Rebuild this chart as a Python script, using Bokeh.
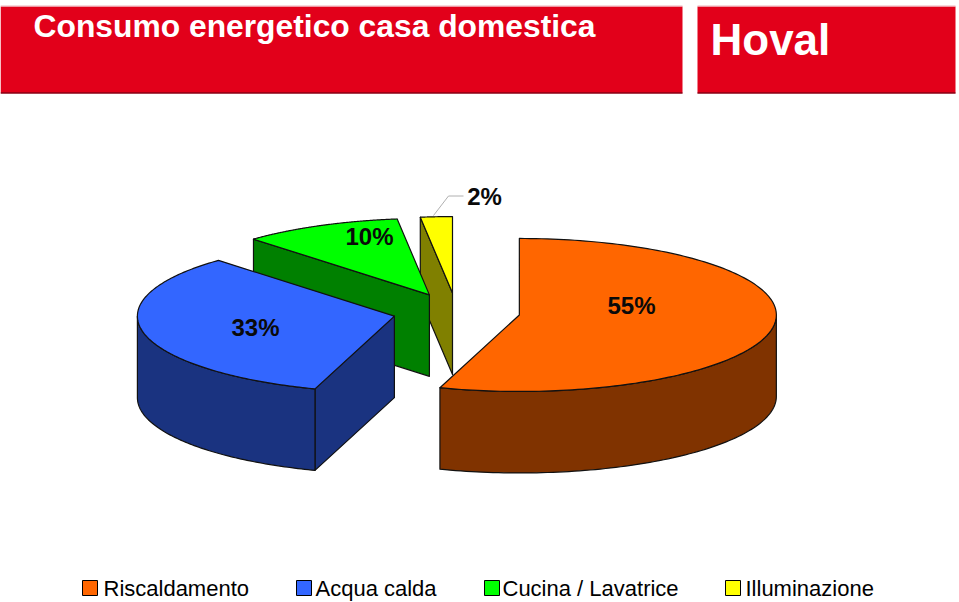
import numpy as np
from bokeh.plotting import figure
from bokeh.models import Range1d
from bokeh.core.properties import value
from bokeh.embed import file_html
from bokeh.resources import INLINE

# --- data ---
categories = ["Riscaldamento", "Acqua calda", "Cucina / Lavatrice", "Illuminazione"]
shares = [55, 33, 10, 2]
share_labels = ["55%", "33%", "10%", "2%"]
title_text = "Consumo energetico casa domestica"
logo_text = "Hoval"

# --- styling / layout ---
W, H = 959, 602
top_colors = ["#FF6600", "#3366FF", "#00FF00", "#FFFF00"]
side_colors = ["#803300", "#1A3380", "#008000", "#808000"]
cx, cy, rx, ry, depth, explode = 456, 311.5, 257, 76.5, 81.5, 0.2476
label_x = [631, 255, 369, 484]
label_y = [305, 327, 236, 196]
legend_box_x = [82, 296, 484, 725]
legend_text_x = [103, 315, 502, 745]
RED = "#E2001A"
FONT = "Liberation Sans"

p = figure(width=W, height=H, output_backend="svg", toolbar_location=None,
           x_range=Range1d(0, W), y_range=Range1d(H, 0), min_border=0,
           outline_line_color=None, background_fill_color="white",
           border_fill_color="white", margin=(0, 0, 0, 0))
p.axis.visible = False
p.grid.visible = False

# header
p.quad(left=[0, 697], right=[682, 955], top=[6, 6], bottom=[93, 93], fill_color=RED, line_color=None)
p.segment(x0=[0, 697], x1=[682, 955], y0=[92.5, 92.5], y1=[92.5, 92.5], line_color="#5a0010", line_width=1)
p.segment(x0=[0, 697], x1=[682, 955], y0=[5.5, 5.5], y1=[5.5, 5.5], line_color="#eeb0b8", line_width=1)
p.text(x=[33], y=[25], text=[title_text], text_color="white", text_font=value(FONT),
       text_font_style="bold", text_font_size="31.8px", text_baseline="middle", text_align="left")
p.text(x=[710], y=[39], text=[logo_text], text_color="white", text_font=value(FONT),
       text_font_style="bold", text_font_size="44px", text_baseline="middle", text_align="left")

# pie geometry derived from the shares
ends = np.cumsum(shares) / sum(shares) * 2 * np.pi
starts = np.concatenate([[0], ends[:-1]])


def px(a, ax):
    return ax + rx * np.sin(a)


def py(a, ay):
    return ay - ry * np.cos(a)


def draw_slice(i):
    s, e = starts[i], ends[i]
    m = (s + e) / 2
    ax = cx + explode * rx * np.sin(m)
    ay = cy - explode * ry * np.cos(m)
    side, top = side_colors[i], top_colors[i]
    style = dict(line_color="#111111", line_width=1.2, line_join="round")
    # cut face at the slice start, when it faces the viewer
    if np.sin(s) < -1e-6:
        sx, sy = px(s, ax), py(s, ay)
        p.patch([ax, sx, sx, ax], [ay, sy, sy + depth, ay + depth], fill_color=side, **style)
    # outer wall: the part of the rim turned towards the viewer
    lo, hi = max(s, np.pi / 2), min(e, 3 * np.pi / 2)
    if hi > lo:
        t = np.linspace(lo, hi, 90)
        xs = px(t, ax)
        ys = py(t, ay)
        p.patch(np.concatenate([xs, xs[::-1]]), np.concatenate([ys, ys[::-1] + depth]),
                fill_color=side, **style)
    # top
    t = np.linspace(s, e, 160)
    p.patch(np.concatenate([[ax], px(t, ax)]), np.concatenate([[ay], py(t, ay)]),
            fill_color=top, **style)


for i in [3, 2, 1, 0]:
    draw_slice(i)

# leader line of the small slice's label
p.line([433, 448, 463], [215, 195.5, 195.5], line_color="#b0b0b0", line_width=1)

p.text(x=label_x, y=label_y, text=share_labels, text_color="#0a0a0a", text_font=value(FONT),
       text_font_style="bold", text_font_size="24px", text_baseline="middle", text_align="center")

# legend
p.quad(left=legend_box_x, right=[x + 15 for x in legend_box_x], top=[580] * 4, bottom=[595] * 4,
       fill_color=top_colors, line_color="black", line_width=1)
p.text(x=legend_text_x, y=[588] * 4, text=categories, text_color="black", text_font=value(FONT),
       text_font_size="22px", text_baseline="middle", text_align="left")

open("out.html", "w").write(file_html(p, INLINE))
